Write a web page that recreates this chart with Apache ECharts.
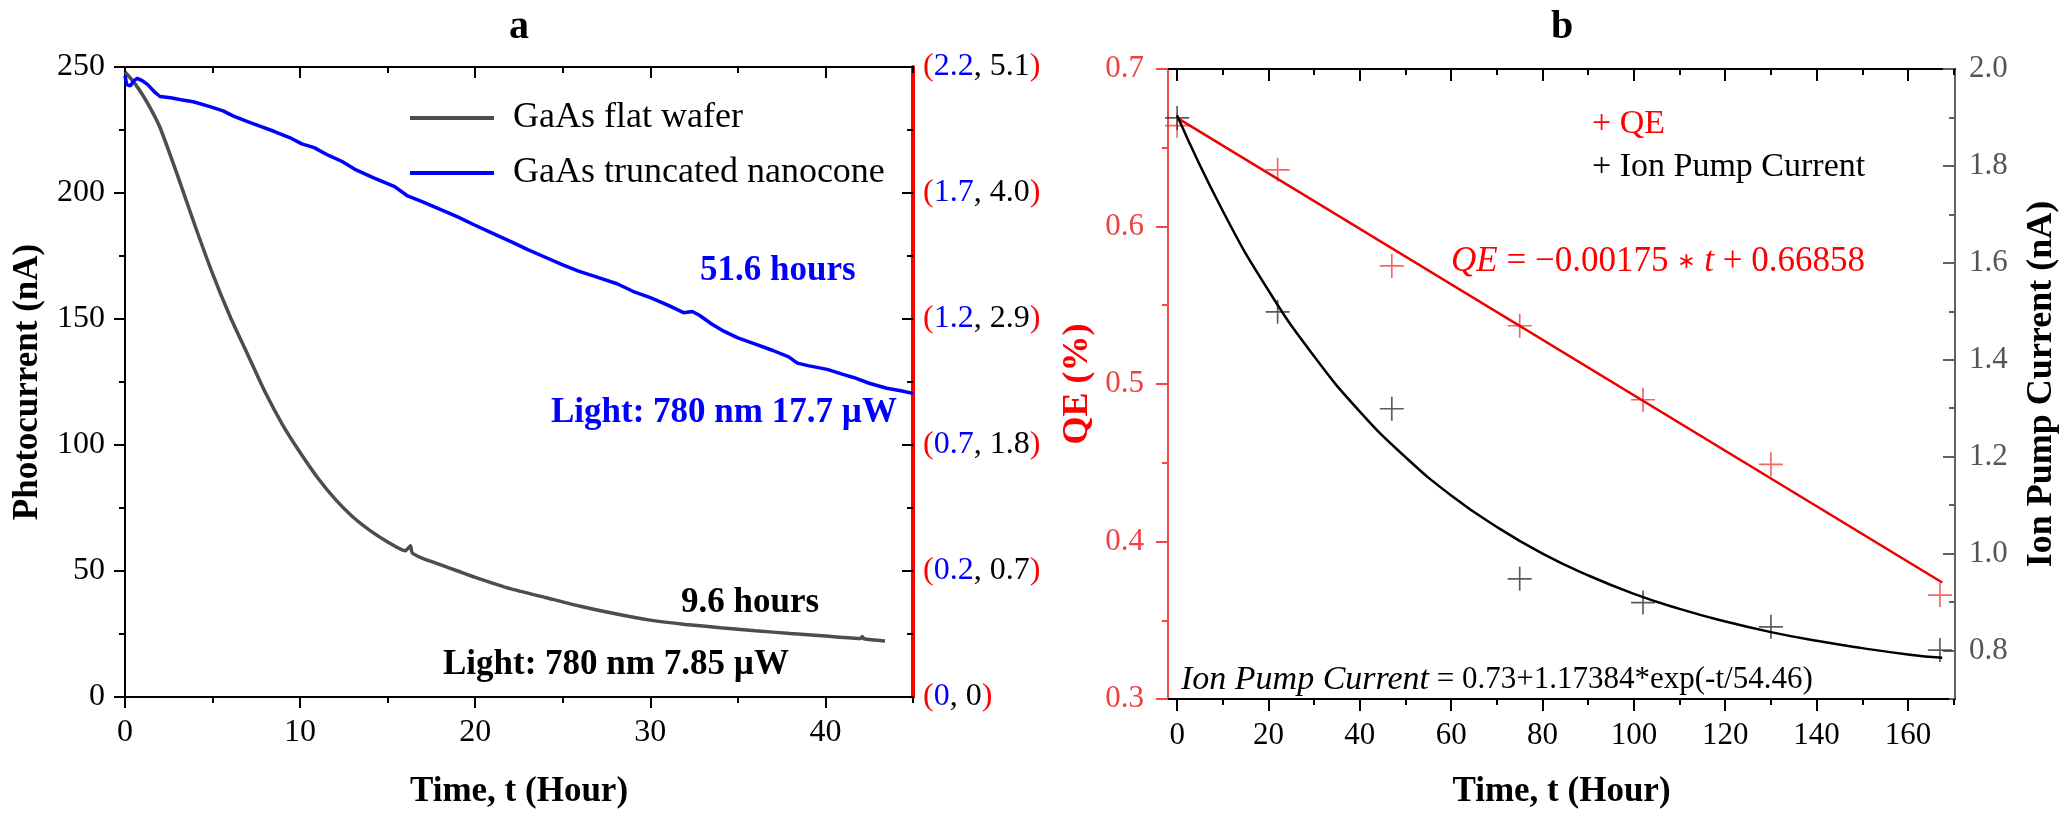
<!DOCTYPE html>
<html><head><meta charset="utf-8">
<script src="https://cdn.jsdelivr.net/npm/echarts@6/dist/echarts.min.js"></script>
<style>html,body{margin:0;padding:0;background:#fff}#c{width:2061px;height:814px}</style>
</head><body><div id="c"></div>
<script>
// ---------- data ----------
const flatT = [0, 0.5, 1, 1.5, 2, 3, 4, 5, 6, 7, 8, 9, 10, 11, 12, 13, 14, 15, 16, 16.3, 16.4, 17, 18, 19, 20, 22, 24, 26, 28, 30, 32, 34, 36, 38, 40, 42, 42.1, 42.2, 43.4];
const flatV = [248, 244, 239, 233, 226, 207, 187, 168, 151, 136, 121, 108, 97, 87, 78.5, 71.5, 66, 61.5, 58, 60, 57.2, 55, 52.5, 50, 47.5, 43, 39.5, 36, 33, 30.5, 28.8, 27.5, 26.3, 25.2, 24.2, 23.2, 24, 23.1, 22.2];
const coneT = [0, 0.1, 0.3, 0.5, 0.7, 1.0, 1.3, 1.7, 2.0, 2.6, 3.2, 3.9, 4.9, 5.6, 6.2, 7.0, 7.7, 8.5, 9.4, 10.1, 10.8, 11.6, 12.4, 13.1, 14.2, 15.4, 16.1, 17, 18, 19, 19.9, 21, 22.1, 23, 24, 25, 25.9, 27, 28.1, 29, 30, 31, 31.9, 32.4, 32.8, 33.5, 34.1, 35, 36, 37, 37.9, 38.4, 39, 40.1, 41, 41.6, 42.5, 43.5, 44.3, 45];
const coneV = [246.5, 243, 242.5, 244.5, 245.5, 244.5, 243, 240, 238.3, 237.8, 237, 236.2, 234.2, 232.6, 230.5, 228.3, 226.5, 224.5, 222, 219.5, 218, 215, 212.5, 209.5, 206, 202.5, 199, 196.5, 193.5, 190.5, 187.5, 184, 180.5, 177.5, 174.5, 171.5, 169, 166.5, 164, 161, 158.5, 155.5, 152.5, 153, 151.5, 148, 145.5, 142.5, 140, 137.5, 135, 132.5, 131.5, 130, 128, 126.8, 124.5, 122.5, 121.5, 120.5];
const timeMajorA = [0, 10, 20, 30, 40];
const timeMinorA = [5, 15, 25, 35, 45];
const rightBlue = ['0', '0.2', '0.7', '1.2', '1.7', '2.2'];
const rightBlack = ['0', '0.7', '1.8', '2.9', '4.0', '5.1'];

const measT = [0, 22, 47, 75, 102, 130, 167];
const qeV = [0.664, 0.636, 0.575, 0.537, 0.490, 0.449, 0.366];
const ionV = [1.899, 1.499, 1.299, 0.948, 0.899, 0.849, 0.801];
const qeFitT = [0, 167.5];
const qeFitV = [0.669, 0.374];
const ionFitT = [0, 10, 20, 30, 40, 50, 60, 70, 80, 90, 100, 110, 120, 130, 140, 150, 160, 167.5];
const ionFitV = [1.904, 1.707, 1.543, 1.407, 1.293, 1.199, 1.120, 1.055, 1.000, 0.955, 0.917, 0.886, 0.860, 0.838, 0.820, 0.805, 0.792, 0.785];
const timeMajorB = [0, 20, 40, 60, 80, 100, 120, 140, 160];
const timeMinorB = [10, 30, 50, 70, 90, 110, 130, 150, 170];
const ionMajor = [0.8, 1.0, 1.2, 1.4, 1.6, 1.8, 2.0];
const ionMinor = [0.7, 0.9, 1.1, 1.3, 1.5, 1.7, 1.9];

// ---------- chart ----------
const FF = '"Liberation Serif", "Times New Roman", serif';
const chart = echarts.init(document.getElementById('c'), null, {renderer: 'canvas'});
const pair = (xs, ys) => xs.map((x, i) => [x, ys[i]]);
const PLUS = 'path://M9.3,0 h1.4 v9.3 h9.3 v1.4 h-9.3 v9.3 h-1.4 v-9.3 h-9.3 v-1.4 h9.3 z';

function tickAx(o) {
  return Object.assign({
    type: 'value', splitLine: {show: false},
    axisLine: {show: true, onZero: false, lineStyle: {color: '#000', width: 2}},
    axisLabel: {show: false},
    axisTick: {show: true, length: 11, lineStyle: {color: '#000', width: 2}}
  }, o);
}

const nameStyle = {fontFamily: FF, fontSize: 35, fontWeight: 'bold', color: '#000'};

const option = {
  backgroundColor: '#ffffff',
  animation: false,
  grid: [
    {left: 125, top: 67, width: 788, height: 632},
    {left: 1168, top: 69, width: 788, height: 632}
  ],
  legend: {
    data: [{name: 'GaAs flat wafer', icon: 'rect'}, {name: 'GaAs truncated nanocone', icon: 'rect'}],
    orient: 'vertical', left: 405, top: 95,
    itemWidth: 84, itemHeight: 4, itemGap: 19,
    textStyle: {fontFamily: FF, fontSize: 36, color: '#000', padding: [0, 0, 0, 14]}
  },
  xAxis: [
    tickAx({gridIndex: 0, position: 'bottom', min: 0, max: 45,
      axisTick: {show: true, length: 11, customValues: timeMajorA, lineStyle: {color: '#000', width: 2}},
      axisLabel: {show: true, customValues: timeMajorA, fontFamily: FF, fontSize: 32, color: '#000', margin: 20},
      name: 'Time, t (Hour)', nameLocation: 'middle', nameGap: 77, nameTextStyle: nameStyle}),
    tickAx({gridIndex: 0, position: 'bottom', min: 0, max: 45, axisLine: {show: false, onZero: false},
      axisTick: {show: true, length: 6, customValues: timeMinorA, lineStyle: {color: '#000', width: 2}}}),
    tickAx({gridIndex: 0, position: 'top', min: 0, max: 45,
      axisTick: {show: true, inside: true, length: 11, customValues: timeMajorA, lineStyle: {color: '#000', width: 2}}}),
    tickAx({gridIndex: 0, position: 'top', min: 0, max: 45, axisLine: {show: false, onZero: false},
      axisTick: {show: true, inside: true, length: 6, customValues: timeMinorA, lineStyle: {color: '#000', width: 2}}}),
    tickAx({gridIndex: 1, position: 'bottom', min: -2, max: 170.3,
      axisTick: {show: true, length: 12, customValues: timeMajorB, lineStyle: {color: '#000', width: 2}},
      axisLabel: {show: true, customValues: timeMajorB, fontFamily: FF, fontSize: 31, color: '#000', margin: 21},
      name: 'Time, t (Hour)', nameLocation: 'middle', nameGap: 75, nameTextStyle: nameStyle}),
    tickAx({gridIndex: 1, position: 'bottom', min: -2, max: 170.3, axisLine: {show: false, onZero: false},
      axisTick: {show: true, length: 6, customValues: timeMinorB, lineStyle: {color: '#000', width: 2}}}),
    tickAx({gridIndex: 1, position: 'top', min: -2, max: 170.3,
      axisTick: {show: true, inside: true, length: 12, customValues: timeMajorB, lineStyle: {color: '#000', width: 2}}}),
    tickAx({gridIndex: 1, position: 'top', min: -2, max: 170.3, axisLine: {show: false, onZero: false},
      axisTick: {show: true, inside: true, length: 6, customValues: timeMinorB, lineStyle: {color: '#000', width: 2}}})
  ],
  yAxis: [
    {type: 'value', gridIndex: 0, position: 'left', min: 0, max: 250, interval: 50,
      splitLine: {show: false},
      axisLine: {show: true, onZero: false, lineStyle: {color: '#000', width: 2}},
      axisTick: {show: true, length: 11, lineStyle: {color: '#000', width: 2}},
      minorTick: {show: true, splitNumber: 2, length: 6, lineStyle: {color: '#000', width: 2}},
      axisLabel: {fontFamily: FF, fontSize: 32, color: '#000', margin: 20},
      name: 'Photocurrent (nA)', nameLocation: 'middle', nameGap: 80, nameTextStyle: nameStyle},
    {type: 'value', gridIndex: 0, position: 'right', min: 0, max: 250, interval: 50,
      splitLine: {show: false},
      axisLine: {show: true, onZero: false, lineStyle: {color: '#ff0000', width: 4}},
      axisTick: {show: true, inside: true, length: 11, lineStyle: {color: '#000', width: 2}},
      minorTick: {show: true, splitNumber: 2, length: 6, lineStyle: {color: '#000', width: 2}},
      axisLabel: {margin: 10, fontFamily: FF, fontSize: 32,
        formatter: function (v) {
          const i = Math.round(v / 50);
          return '{p|(}{b|' + rightBlue[i] + '}{k|, ' + rightBlack[i] + '}{p|)}';
        },
        rich: {
          p: {color: '#ff0000', fontFamily: FF, fontSize: 32},
          b: {color: '#0000ff', fontFamily: FF, fontSize: 32},
          k: {color: '#000000', fontFamily: FF, fontSize: 32}
        }}},
    {type: 'value', gridIndex: 1, position: 'left', min: 0.3, max: 0.7, interval: 0.1,
      splitLine: {show: false},
      axisLine: {show: true, onZero: false, lineStyle: {color: '#f04848', width: 2}},
      axisTick: {show: true, length: 12, lineStyle: {color: '#f04848', width: 2}},
      minorTick: {show: true, splitNumber: 2, length: 6, lineStyle: {color: '#f04848', width: 2}},
      axisLabel: {fontFamily: FF, fontSize: 31, color: '#f04040', margin: 24, formatter: v => v.toFixed(1)},
      name: 'QE (%)', nameLocation: 'middle', nameGap: 72,
      nameTextStyle: {fontFamily: FF, fontSize: 36, fontWeight: 'bold', color: '#ff0000'}},
    tickAx({gridIndex: 1, position: 'right', min: 0.7, max: 2.0,
      axisLine: {show: true, onZero: false, lineStyle: {color: '#606060', width: 2}},
      axisTick: {show: true, inside: true, length: 12, customValues: ionMajor, lineStyle: {color: '#606060', width: 2}},
      axisLabel: {show: true, customValues: ionMajor, fontFamily: FF, fontSize: 31, color: '#555', margin: 14, formatter: v => v.toFixed(1)},
      name: 'Ion Pump Current (nA)', nameLocation: 'middle', nameGap: 69, nameTextStyle: Object.assign({}, nameStyle, {fontSize: 36})}),
    tickAx({gridIndex: 1, position: 'right', min: 0.7, max: 2.0, axisLine: {show: false, onZero: false},
      axisTick: {show: true, inside: true, length: 6, customValues: ionMinor, lineStyle: {color: '#606060', width: 2}}})
  ],
  series: [
    {name: 'GaAs flat wafer', type: 'line', xAxisIndex: 0, yAxisIndex: 0, symbol: 'none', smooth: 0.2,
      data: pair(flatT, flatV), lineStyle: {color: '#4d4d4d', width: 3.5}, itemStyle: {color: '#4d4d4d'}},
    {name: 'GaAs truncated nanocone', type: 'line', xAxisIndex: 0, yAxisIndex: 0, symbol: 'none',
      data: pair(coneT, coneV), lineStyle: {color: '#0000ff', width: 3.5}, itemStyle: {color: '#0000ff'}},
    {name: 'QE fit', type: 'line', xAxisIndex: 4, yAxisIndex: 2, symbol: 'none',
      data: pair(qeFitT, qeFitV), lineStyle: {color: '#ee0000', width: 2.5}},
    {name: 'Ion fit', type: 'line', xAxisIndex: 4, yAxisIndex: 3, symbol: 'none', smooth: true,
      data: pair(ionFitT, ionFitV), lineStyle: {color: '#000', width: 2.5}},
    {name: 'QE', type: 'scatter', xAxisIndex: 4, yAxisIndex: 2, symbol: PLUS, symbolSize: 24,
      data: pair(measT, qeV), itemStyle: {color: '#f04040'}},
    {name: 'Ion Pump Current', type: 'scatter', xAxisIndex: 4, yAxisIndex: 3, symbol: PLUS, symbolSize: 24,
      data: pair(measT, ionV), itemStyle: {color: '#333'}}
  ],
  graphic: [
    {type: 'text', x: 519, y: 28, style: {text: 'a', font: 'bold 40px ' + FF, fill: '#000', align: 'center', verticalAlign: 'middle'}},
    {type: 'text', x: 1562, y: 28, style: {text: 'b', font: 'bold 40px ' + FF, fill: '#000', align: 'center', verticalAlign: 'middle'}},
    {type: 'text', x: 700, y: 271, style: {text: '51.6 hours', font: 'bold 35px ' + FF, fill: '#0000ff', verticalAlign: 'middle'}},
    {type: 'text', x: 551, y: 413, style: {text: 'Light: 780 nm 17.7 \u00b5W', font: 'bold 35px ' + FF, fill: '#0000ff', verticalAlign: 'middle'}},
    {type: 'text', x: 681, y: 603, style: {text: '9.6 hours', font: 'bold 35px ' + FF, fill: '#000', verticalAlign: 'middle'}},
    {type: 'text', x: 443, y: 665, style: {text: 'Light: 780 nm 7.85 \u00b5W', font: 'bold 35px ' + FF, fill: '#000', verticalAlign: 'middle'}},
    {type: 'text', x: 1592, y: 124, style: {text: '+ QE', font: '34px ' + FF, fill: '#ff0000', verticalAlign: 'middle'}},
    {type: 'text', x: 1592, y: 167, style: {text: '+ Ion Pump Current', font: '34px ' + FF, fill: '#000', verticalAlign: 'middle'}},
    {type: 'text', x: 1451, y: 262, style: {
      text: '{i|QE} = \u22120.00175 {s|\u2217} {i|t} + 0.66858', font: '35px ' + FF, fill: '#ff0000', verticalAlign: 'middle',
      rich: {
        i: {fontStyle: 'italic', fontSize: 35, fontFamily: 'Liberation Serif', fill: '#ff0000'},
        s: {fontSize: 22, fontFamily: 'DejaVu Sans', fill: '#ff0000'}
      }}},
    {type: 'text', x: 1181, y: 680, style: {
      text: '{i|Ion Pump Current} = 0.73+1.17384*exp(-t/54.46)', font: '31px ' + FF, fill: '#000', verticalAlign: 'middle',
      rich: {i: {fontStyle: 'italic', fontSize: 34, fontFamily: 'Liberation Serif', fill: '#000'}}}}
  ]
};
chart.setOption(option);
</script></body></html>
